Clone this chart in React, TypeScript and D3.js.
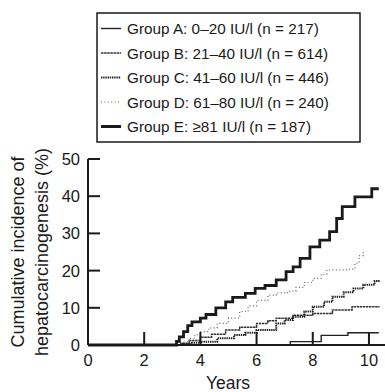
import * as d3 from "d3";

// ── Data (years, cumulative incidence %) ──────────────────
const groupA: [number, number][] = [
  [0, 0], [7.2, 0], [7.2, 0.9], [8.3, 0.9], [8.3, 2.6], [9.25, 2.6], [9.25, 3.3], [10.35, 3.3],
];
const groupB: [number, number][] = [
  [0, 0], [3.0, 0], [3.3, 0.5], [3.6, 1.2], [4.0, 2.1], [4.4, 2.9], [4.9, 4.0], [5.4, 4.8],
  [6.0, 5.8], [6.4, 6.5], [6.7, 7.2], [7.3, 8.0], [8.0, 8.5], [8.7, 9.4], [9.4, 10.3], [10.35, 10.5],
];
const groupC: [number, number][] = [
  [0, 0], [3.0, 0], [3.3, 0.3], [3.7, 0.6], [4.0, 0.9], [4.6, 1.8], [5.2, 2.7], [5.6, 3.3],
  [6.0, 4.0], [6.7, 5.8], [7.0, 6.7], [7.3, 7.6], [7.7, 9.0], [8.0, 10.3], [8.4, 11.6],
  [8.7, 13.0], [9.1, 14.2], [9.45, 15.2], [9.8, 16.2], [10.2, 17.2], [10.35, 17.5],
];
const groupD: [number, number][] = [
  [0, 0], [3.0, 0], [3.3, 0.8], [3.6, 1.8], [3.8, 2.8], [4.0, 3.6], [4.3, 4.6], [4.6, 5.8],
  [5.0, 7.2], [5.4, 9.0], [5.7, 10.5], [6.0, 12.0], [6.4, 13.4], [6.7, 14.0], [7.1, 14.5],
  [7.4, 15.5], [7.7, 16.8], [8.0, 17.9], [8.3, 19.0], [8.5, 20.2], [9.3, 20.4], [9.5, 22.0],
  [9.65, 24.0], [9.8, 25.5],
];
const groupE: [number, number][] = [
  [0, 0], [3.1, 0], [3.15, 1.0], [3.25, 2.2], [3.4, 3.6], [3.55, 5.2], [3.7, 6.2], [4.0, 7.2],
  [4.2, 8.2], [4.55, 10.0], [4.9, 11.6], [5.15, 12.8], [5.6, 13.9], [5.95, 15.2], [6.3, 16.0],
  [6.7, 17.5], [7.05, 19.7], [7.3, 21.0], [7.55, 23.3], [7.9, 26.4], [8.25, 28.2], [8.6, 30.5],
  [8.85, 34.0], [9.05, 37.2], [9.5, 39.8], [10.1, 42.0], [10.35, 42.0],
];

const legendLabels = [
  "Group A: 0–20 IU/l (n = 217)",
  "Group B: 21–40 IU/l (n = 614)",
  "Group C: 41–60 IU/l (n = 446)",
  "Group D: 61–80 IU/l (n = 240)",
  "Group E: ≥81 IU/l (n = 187)",
];
const xTicks = [0, 2, 4, 6, 8, 10];
const yTicks = [0, 10, 20, 30, 40, 50];

// ── Styles per group ──────────────────────────────────────
const styles = [
  { w: 1.4, dash: "none", color: "#222" },
  { w: 1.5, dash: "2.5,0.6", color: "#333" },
  { w: 2, dash: "1.4,0.8", color: "#222" },
  { w: 1.2, dash: "1,2.4", color: "#666" },
  { w: 2.8, dash: "none", color: "#1a1a1a" },
];
const series = [groupA, groupB, groupC, groupD, groupE];

// ── Layout ────────────────────────────────────────────────
const W = 385;
const H = 392;
const x = d3.scaleLinear().domain([0, 10.5]).range([88, 383]);
const y = d3.scaleLinear().domain([0, 50]).range([345, 159]);
const FONT = "'Liberation Sans', Arial, sans-serif";
const INK = "#1a1a1a";

const line = d3.line<[number, number]>()
  .x(d => x(d[0]))
  .y(d => y(d[1]))
  .curve(d3.curveStepAfter);

export default function App() {
  const legX = 97, legY = 13, legW = 263, legH = 129;
  return (
    <svg width={W} height={H} style={{ position: "absolute", left: 0, top: 0, background: "#fff" }}>
      {/* legend */}
      <rect x={legX} y={legY} width={legW} height={legH} fill="none" stroke={INK} strokeWidth={1.5} />
      {legendLabels.map((lab, i) => {
        const cy = 28.5 + i * 24.5;
        const s = styles[i];
        return (
          <g key={lab}>
            <line x1={101} x2={121} y1={cy} y2={cy} stroke={s.color}
              strokeWidth={i === 4 ? 3 : s.w} strokeDasharray={s.dash} />
            <text x={127} y={cy + 5.5} fontSize={15.3} fontFamily={FONT} fill={INK}>{lab}</text>
          </g>
        );
      })}

      {/* curves */}
      {series.map((d, i) => (
        <path key={i} d={line(d) ?? ""} fill="none" stroke={styles[i].color}
          strokeWidth={styles[i].w} strokeDasharray={styles[i].dash} />
      ))}

      {/* axes */}
      <line x1={x(0)} x2={x(0)} y1={y(50)} y2={y(0)} stroke={INK} strokeWidth={2} />
      <line x1={x(0)} x2={W} y1={y(0)} y2={y(0)} stroke={INK} strokeWidth={2} />
      {yTicks.map(t => (
        <g key={"y" + t}>
          {t > 0 && <line x1={x(0)} x2={x(0) + 12} y1={y(t)} y2={y(t)} stroke={INK} strokeWidth={2} />}
          <text x={80} y={y(t) + 6} textAnchor="end" fontSize={16.5} fontFamily={FONT} fill={INK}>{t}</text>
        </g>
      ))}
      {xTicks.map(t => (
        <g key={"x" + t}>
          {t > 0 && <line x1={x(t)} x2={x(t)} y1={y(0)} y2={y(0) - 13} stroke={INK} strokeWidth={2} />}
          <text x={x(t)} y={366} textAnchor="middle" fontSize={16.5} fontFamily={FONT} fill={INK}>{t}</text>
        </g>
      ))}

      {/* axis titles */}
      <text x={228} y={389} textAnchor="middle" fontSize={17.5} fontFamily={FONT} fill={INK}>Years</text>
      <g transform="translate(18,252) rotate(-90)">
        <text textAnchor="middle" dy="0.35em" fontSize={18} fontFamily={FONT} fill={INK}>Cumulative incidence of</text>
      </g>
      <g transform="translate(42,252) rotate(-90)">
        <text textAnchor="middle" dy="0.35em" fontSize={18} fontFamily={FONT} fill={INK}>hepatocarcinogenesis (%)</text>
      </g>
    </svg>
  );
}
